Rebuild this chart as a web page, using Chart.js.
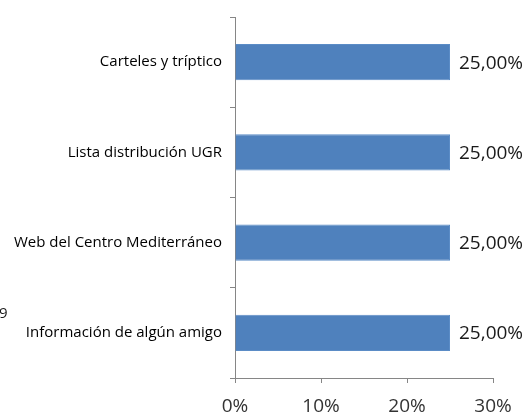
<!DOCTYPE html>
<html>
<head>
<meta charset="utf-8">
<script src="https://cdn.jsdelivr.net/npm/chart.js@4"></script>
<style>
  html, body { margin: 0; padding: 0; background: #fff; }
  #wrap { width: 531px; height: 419px; position: relative; }
</style>
</head>
<body>
<div id="wrap"><canvas id="mediosChart"></canvas></div>
<script>
const categories = [
  "Carteles y tríptico",
  "Lista distribución UGR",
  "Web del Centro Mediterráneo",
  "Información de algún amigo"
];
const values = [25, 25, 25, 25];
const valueLabels = ["25,00%", "25,00%", "25,00%", "25,00%"];
const tickValues = [0, 10, 20, 30];

const FONT = "'Open Sans', 'Liberation Sans', sans-serif";

// draws the "25,00%" labels right of each bar
const barValueLabels = {
  id: "barValueLabels",
  afterDatasetsDraw(chart) {
    const ctx = chart.ctx;
    const meta = chart.getDatasetMeta(0);
    ctx.save();
    ctx.font = "19px " + FONT;
    ctx.fillStyle = "#1a1a1a";
    ctx.textAlign = "left";
    ctx.textBaseline = "middle";
    meta.data.forEach((bar, i) => {
      ctx.fillText(valueLabels[i], bar.x + 9, bar.y + 1);
    });
    // stray cut-off glyph at the left edge
    ctx.font = "15px " + FONT;
    ctx.fillText("9", -1, 314);
    ctx.restore();
  }
};

new Chart(document.getElementById("mediosChart").getContext("2d"), {
  type: "bar",
  data: {
    labels: categories,
    datasets: [{
      data: values,
      backgroundColor: "#4f81bd",
      borderColor: "#5b8cc6",
      borderWidth: 1,
      barPercentage: 0.4,
      categoryPercentage: 1.0
    }]
  },
  options: {
    indexAxis: "y",
    responsive: true,
    maintainAspectRatio: false,
    animation: false,
    layout: { padding: { left: 0, right: 38, top: 13, bottom: 0 } },
    scales: {
      x: {
        min: 0,
        max: 30,
        afterBuildTicks(scale) {
          scale.ticks = tickValues.map(v => ({ value: v }));
        },
        afterFit(scale) { scale.height = 41; },
        grid: {
          drawOnChartArea: false,
          drawTicks: true,
          tickLength: 5,
          color: "#868686"
        },
        border: { color: "#868686", width: 1 },
        ticks: {
          callback: v => v + "%",
          color: "#333",
          font: { family: FONT, size: 19 },
          padding: 12,
          maxRotation: 0
        }
      },
      y: {
        afterFit(scale) { scale.width = 235; },
        grid: {
          offset: true,
          drawOnChartArea: false,
          drawTicks: true,
          tickLength: 5,
          color: "#868686"
        },
        border: { color: "#868686", width: 1 },
        ticks: {
          color: "#000",
          font: { family: FONT, size: 15 },
          padding: 8
        }
      }
    },
    plugins: {
      legend: { display: false },
      tooltip: { enabled: false }
    }
  },
  plugins: [barValueLabels]
});
</script>
</body>
</html>
